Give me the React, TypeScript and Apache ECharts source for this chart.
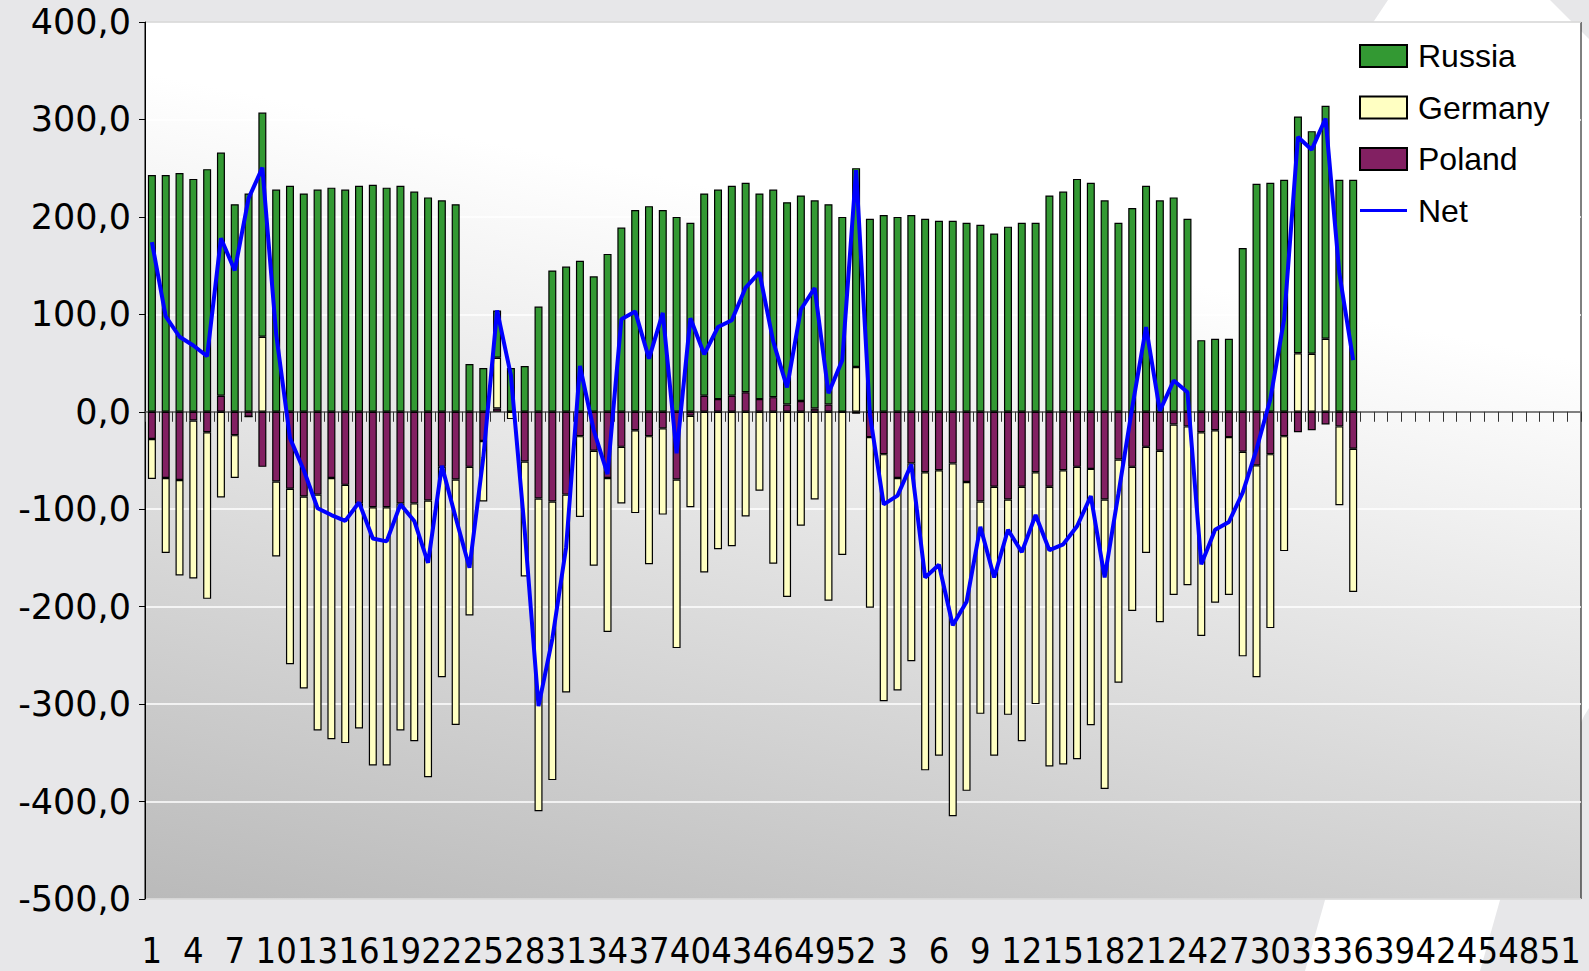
import React, { useEffect, useRef } from 'react';
import * as echarts from 'echarts';

const weekLabels = [
  '1','2','3','4','5','6','7','8','9','10','11','12','13','14','15','16','17','18','19','20','21','22','23','24','25','26',
  '27','28','29','30','31','32','33','34','35','36','37','38','39','40','41','42','43','44','45','46','47','48','49','50','51','52',
  '1','2','3','4','5','6','7','8','9','10','11','12','13','14','15','16','17','18','19','20','21','22','23','24','25','26',
  '27','28','29','30','31','32','33','34','35','36','37','38','39','40','41','42','43','44','45','46','47','48','49','50','51','52',
];

const russia = [
  243, 243, 245, 239, 249, 249.5, 213, 224, 230, 228,
  232, 224, 228, 230, 228, 232, 233, 230, 232, 226,
  220, 217, 213, 49, 45, 48.6, 45, 47, 108, 145,
  149, 155, 139, 162, 189, 207, 211, 207, 200, 194,
  207.5, 215, 215.5, 215, 211, 213, 207.5, 211, 213.6, 205.5,
  200, 204, 198, 202, 200, 202, 198, 196, 196, 194,
  192, 183, 190, 194, 194, 222, 226, 239, 235, 217,
  194, 209, 232, 217, 220, 198, 73.5, 75, 75, 168,
  234, 235, 238, 243, 228.5, 239, 238, 238,
];

const germany = [
  -41, -77, -98, -162, -171, -88, -44, 0, 77, -77,
  -180, -197, -242, -268, -265, -231, -265, -265, -233, -244,
  -284, -216, -252, -152.5, -62, 52, -7.5, -118, -321, -286,
  -203, -83, -118, -158, -58, -85, -131.5, -88.5, -173, -94,
  -165, -141, -138, -107.5, -81, -156, -190, -117, -90, -194,
  -147, 46, -175, -253.5, -218, -203, -306, -293, -362, -317,
  -218, -276, -221, -261, -238, -287, -302, -300, -263, -297,
  -229, -148, -109, -176, -175, -163, -209, -177, -162, -210,
  -217.5, -178.5, -118, 60, 59.5, 75, -81, -147,
];

const poland = [
  -28, -68, -70, -9, -21, 16.5, -24, -5, -56.5, -71.5,
  -79, -87, -85, -68, -75, -94, -98, -98, -94, -94,
  -91, -56.5, -69.5, -56.5, -30, 3.4, 0, -51, -89, -92,
  -85, -25, -40, -68, -36, -19, -25, -17, -69.5, -4,
  16.5, 13, 16.5, 20, 13, 15, 7.5, 11, 3.4, 7.5,
  0, -2, -26, -43.5, -68, -53, -62, -60, -53, -72,
  -92, -77, -90, -77, -62, -77, -60, -56.5, -58.6, -90,
  -49, -56.5, -36, -40, -13, -15, -21, -19, -26, -41,
  -55, -43.5, -25, -21, -19, -13, -15, -38,
];

const net = [
  174, 98, 77, 68, 57, 178, 145, 219, 250.5, 79.5,
  -27, -60, -99, -106, -112, -93, -130, -133, -95, -112,
  -155, -55.5, -108.5, -160, -47, 104, 37.5, -122, -302, -233,
  -139, 47, -19, -64, 95, 103, 54.5, 101.5, -42.5, 96,
  59, 87, 94, 127.5, 143, 72, 25, 105, 127, 19,
  53, 248, -3, -95, -86, -54, -170, -157, -219, -195,
  -118, -170, -121, -144, -106, -142, -136, -117.5, -86.6, -170,
  -84, 4.5, 87, 1, 32, 20, -156.5, -121, -113, -83,
  -38.5, 13, 95, 282, 269, 301, 142, 53,
];

const legendOrder = ['Russia', 'Germany', 'Poland', 'Net'];

export default function App() {
  const ref = useRef<HTMLDivElement>(null);

  useEffect(() => {
    const chart = echarts.init(ref.current!, null, { renderer: 'svg' });

    const bar = (name: string, data: number[], color: string) => ({
      name,
      type: 'bar',
      stack: 'total',
      data,
      barWidth: 8,
      xAxisIndex: 0,
      yAxisIndex: 0,
      itemStyle: { color, borderColor: '#000000', borderWidth: 1.2 },
    });

    const lineIcon =
      'path://M0,0 L0.01,0 L0,0.01 Z M0,9.5 L47,9.5 L47,12.5 L0,12.5 Z M47,22 L46.99,22 L47,21.99 Z';

    chart.setOption({
      animation: false,
      backgroundColor: '#e7e7e9',
      graphic: [
        {
          type: 'polygon',
          z: -100,
          silent: true,
          shape: {
            points: [
              [1388, 0], [1550, 0], [1600, 50], [1600, 690], [1584, 716],
              [1500, 900], [1480, 971], [1305, 971], [1325, 900], [1368, 30],
            ],
          },
          style: { fill: '#ffffff' },
        },
      ],
      grid: {
        left: 145,
        right: 8,
        top: 22,
        bottom: 72,
        containLabel: false,
        outerBoundsMode: 'none',
        show: true,
        backgroundColor: new echarts.graphic.LinearGradient(0, 1, 0.28, 0.15, [
          { offset: 0, color: '#bababa' },
          { offset: 1, color: '#ffffff' },
        ]),
        borderColor: '#000000',
        borderWidth: 1,
      },
      legend: {
        orient: 'vertical',
        left: 1354,
        top: 35,
        itemWidth: 47,
        itemHeight: 22,
        itemGap: 19.5,
        data: [
          { name: legendOrder[0], icon: 'rect' },
          { name: legendOrder[1], icon: 'rect' },
          { name: legendOrder[2], icon: 'rect' },
          { name: legendOrder[3], icon: lineIcon },
        ],
        textStyle: { fontSize: 32, fontFamily: "'Liberation Sans', Arial, sans-serif", color: '#000000', padding: [0, 0, 0, 6] },
      },
      xAxis: [
        {
          type: 'category',
          data: weekLabels,
          boundaryGap: true,
          axisLine: { show: true, onZero: true, lineStyle: { color: '#555555', width: 1.5 } },
          axisTick: { show: true, interval: 0, length: 10, lineStyle: { color: '#333333' } },
          axisLabel: { show: false },
          splitLine: { show: false },
        },
        {
          type: 'category',
          data: weekLabels,
          boundaryGap: true,
          position: 'bottom',
          axisLine: { show: false, onZero: false },
          axisTick: { show: false },
          splitLine: { show: false },
          axisLabel: {
            interval: 0,
            formatter: (value: string, index: number) => (index % 3 === 0 ? value : ''),
            fontSize: 36,
            fontFamily: "'Liberation Sans Narrow', 'DejaVu Sans Condensed', 'Liberation Sans', sans-serif",
            color: '#000000',
            margin: 33,
          },
        },
      ],
      yAxis: {
        type: 'value',
        min: -500,
        max: 400,
        interval: 100,
        axisLine: { show: true, lineStyle: { color: '#000000' } },
        axisTick: { show: true, length: 6, lineStyle: { color: '#000000' } },
        splitLine: { show: true, lineStyle: { color: '#ffffff', width: 1.5 } },
        axisLabel: {
          formatter: (v: number) => v.toFixed(1).replace('.', ','),
          fontSize: 35,
          fontFamily: "'DejaVu Sans', sans-serif",
          color: '#000000',
          margin: 14,
        },
      },
      series: [
        bar('Poland', poland, '#822062'),
        bar('Germany', germany, '#ffffc2'),
        bar('Russia', russia, '#339933'),
        {
          name: 'Net',
          type: 'line',
          data: net,
          xAxisIndex: 0,
          yAxisIndex: 0,
          symbol: 'none',
          z: 5,
          itemStyle: { color: '#0000ff' },
          lineStyle: { color: '#0000ff', width: 4 },
        },
      ],
    });

    return () => chart.dispose();
  }, []);

  return <div ref={ref} style={{ position: 'fixed', left: 0, top: 0, width: 1589, height: 971 }} />;
}
